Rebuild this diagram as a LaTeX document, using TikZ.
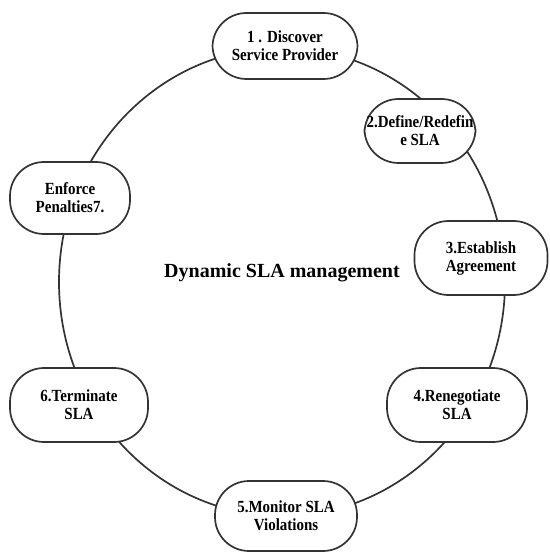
\documentclass[tikz,border=0pt]{standalone}
\usepackage{fontspec}
\setmainfont{Liberation Serif}[FakeStretch=0.88]
\newfontfamily\titlefont{Liberation Serif}
\begin{document}
\begin{tikzpicture}[x=1pt,y=-1pt,
  line width=1.7pt,
  stage/.style={draw=black!80, fill=white, rounded corners=34pt,
    align=center, font=\fontsize{17}{18}\selectfont\bfseries,
    inner sep=0pt},
  cycle/.style={draw=black!80}]
\useasboundingbox (0,0) rectangle (549,553);
% the management cycle
\draw[cycle] (282,282) ellipse [x radius=223, y radius=234];
% stages placed on the cycle
\node[stage, minimum width=145, minimum height=66] (s1) at (285,46) {1 . Discover\\Service Provider};
\node[stage, minimum width=111, minimum height=64] (s2) at (420,131) {2.Define/Redefin\\e SLA};
\node[stage, minimum width=133, minimum height=74] (s3) at (481,258) {3.Establish\\Agreement};
\node[stage, minimum width=140, minimum height=74] (s4) at (457,405) {4.Renegotiate\\SLA};
\node[stage, minimum width=142, minimum height=70] (s5) at (286,516) {5.Monitor SLA\\Violations};
\node[stage, minimum width=138, minimum height=74] (s6) at (79,405) {6.Terminate\\SLA};
\node[stage, minimum width=120, minimum height=72] (s7) at (70,198) {Enforce\\Penalties7.};
% title in the middle
\node[font=\titlefont\fontsize{20}{22}\selectfont\bfseries] (title) at (282,273) {Dynamic SLA management};
\end{tikzpicture}
\end{document}
